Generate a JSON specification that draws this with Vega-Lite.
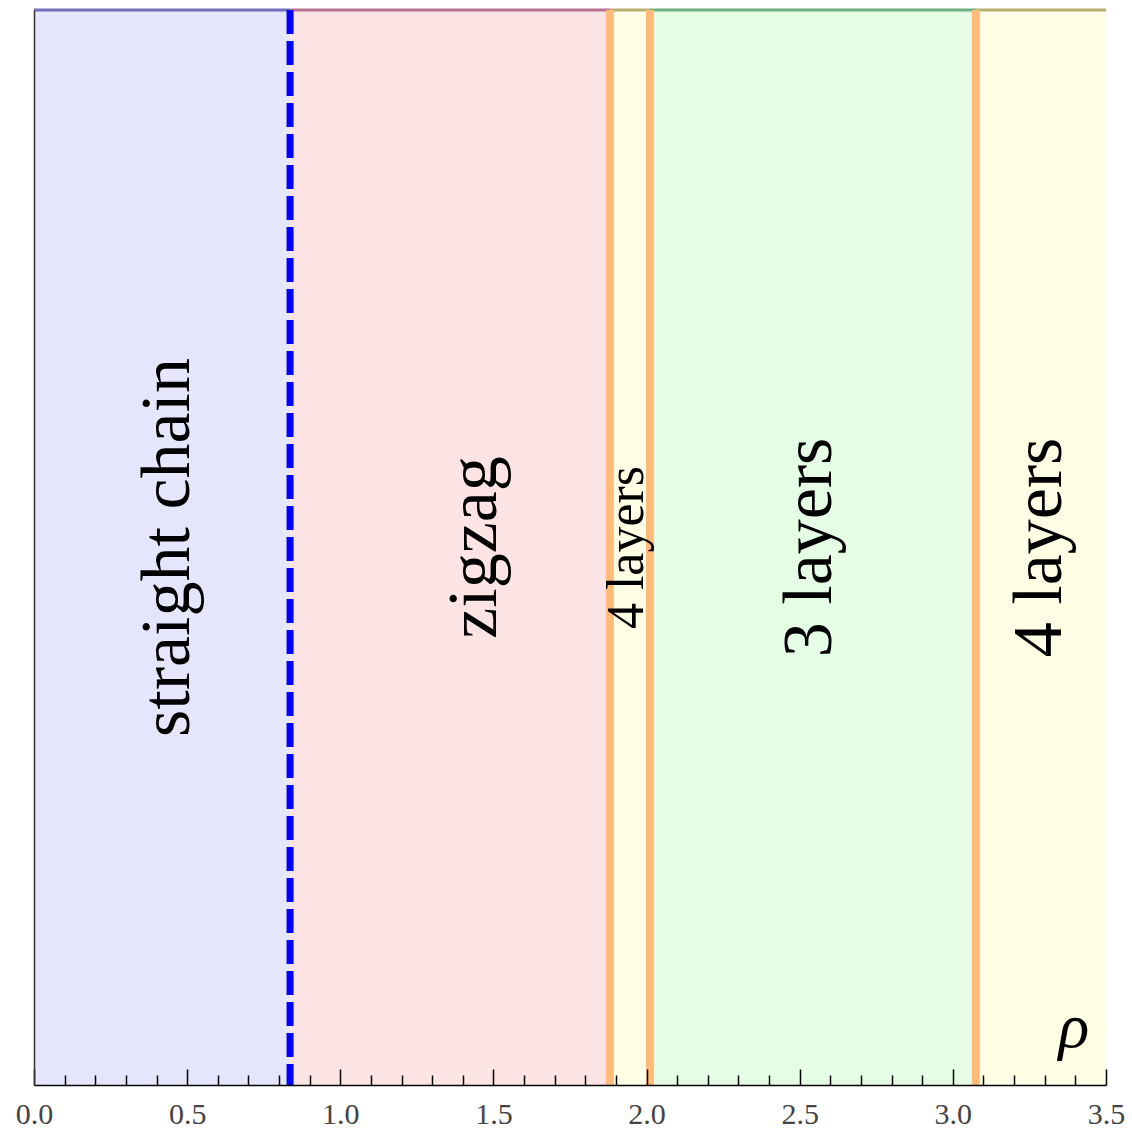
{
  "$schema": "https://vega.github.io/schema/vega-lite/v6.json",
  "width": 1072,
  "height": 1075,
  "autosize": {"type": "none"},
  "padding": {"left": 34, "top": 10, "right": 26, "bottom": 49},
  "background": "white",
  "config": {"view": {"stroke": null}},
  "resolve": {"axis": {"x": "independent", "y": "independent"}},
  "datasets": {
    "regions": [
      {"x0": 0, "x1": 0.836, "region": "straight chain"},
      {"x0": 0.836, "x1": 1.88, "region": "zigzag"},
      {"x0": 1.88, "x1": 2.011, "region": "4 layers a"},
      {"x0": 2.011, "x1": 3.075, "region": "3 layers"},
      {"x0": 3.075, "x1": 3.5, "region": "4 layers b"}
    ]
  },
  "layer": [
    {
      "data": {"name": "regions"},
      "mark": {"type": "rect"},
      "encoding": {
        "x": {"field": "x0", "type": "quantitative", "scale": {"domain": [0, 3.5], "nice": false, "zero": false},
          "axis": {"orient": "bottom", "zindex": 1,
            "values": [0, 0.5, 1, 1.5, 2, 2.5, 3, 3.5], "format": ".1f",
            "title": null, "grid": false,
            "domainColor": "black", "domainWidth": 1.5, "tickColor": "black", "tickWidth": 1.5, "tickSize": -16,
            "labelFont": "Liberation Serif", "labelFontSize": 30, "labelColor": "#444444", "labelPadding": 30, "labelFlush": false, "labelOverlap": false}},
        "x2": {"field": "x1"},
        "y": {"datum": 0, "type": "quantitative", "scale": {"domain": [0, 1], "nice": false},
          "axis": {"orient": "left", "zindex": 1, "title": null, "labels": false, "ticks": false, "grid": false, "domainColor": "#333333", "domainWidth": 1.5}},
        "y2": {"datum": 1},
        "color": {"field": "region", "type": "nominal", "legend": null,
          "scale": {"domain": ["straight chain", "zigzag", "4 layers a", "3 layers", "4 layers b"],
            "range": ["#E5E5FC", "#FDE4E4", "#FFFFE5", "#E5FDE5", "#FFFFE5"]}}
      }
    },
    {
      "data": {"name": "regions"},
      "mark": {"type": "rule", "strokeWidth": 3, "opacity": 1},
      "encoding": {
        "x": {"field": "x0", "type": "quantitative", "axis": null},
        "x2": {"field": "x1"},
        "y": {"datum": 1, "type": "quantitative", "axis": null},
        "stroke": {"field": "region", "type": "nominal", "legend": null,
          "scale": {"domain": ["straight chain", "zigzag", "4 layers a", "3 layers", "4 layers b"],
            "range": ["#7070B8", "#B87090", "#B8B070", "#70B080", "#B8B070"]}}
      }
    },
    {
      "data": {"values": [{"v": 0.1}, {"v": 0.2}, {"v": 0.3}, {"v": 0.4}]},
      "mark": {"type": "point", "opacity": 0},
      "encoding": {
        "x": {"field": "v", "type": "quantitative",
          "axis": {"orient": "bottom", "zindex": 1,
            "values": [0.1,0.2,0.3,0.4,0.6,0.7,0.8,0.9,1.1,1.2,1.3,1.4,1.6,1.7,1.8,1.9,2.1,2.2,2.3,2.4,2.6,2.7,2.8,2.9,3.1,3.2,3.3,3.4],
            "labels": false, "domain": false, "title": null, "grid": false, "tickColor": "black", "tickWidth": 1.5, "tickSize": -10}},
        "y": {"datum": 0.5, "type": "quantitative", "axis": null}
      }
    },
    {
      "data": {"values": [{"x": 1.88}, {"x": 2.011}, {"x": 3.075}]},
      "mark": {"type": "rule", "color": "#FFBB77", "strokeWidth": 8},
      "encoding": {"x": {"field": "x", "type": "quantitative", "axis": null}}
    },
    {
      "data": {"values": [{"x": 0.836}]},
      "mark": {"type": "rule", "color": "#0000FF", "strokeWidth": 7, "strokeDash": [24, 7]},
      "encoding": {"x": {"field": "x", "type": "quantitative", "axis": null}}
    },
    {
      "data": {"values": [
        {"x": 0.437, "y": 0.5, "label": "straight chain", "size": 70},
        {"x": 1.44, "y": 0.5, "label": "zigzag", "size": 70},
        {"x": 1.936, "y": 0.5, "label": "4 layers", "size": 52},
        {"x": 2.533, "y": 0.5, "label": "3 layers", "size": 70},
        {"x": 3.284, "y": 0.5, "label": "4 layers", "size": 70}
      ]},
      "mark": {"type": "text", "angle": 270, "font": "Liberation Serif", "baseline": "middle", "align": "center", "color": "black"},
      "encoding": {
        "x": {"field": "x", "type": "quantitative", "axis": null},
        "y": {"field": "y", "type": "quantitative", "axis": null},
        "text": {"field": "label"},
        "size": {"field": "size", "type": "quantitative", "scale": null, "legend": null}
      }
    },
    {
      "data": {"values": [{"x": 3.395, "y": 0.053, "label": "ρ"}]},
      "mark": {"type": "text", "font": "Liberation Serif", "fontStyle": "italic", "fontSize": 64, "baseline": "middle", "align": "center", "color": "black"},
      "encoding": {
        "x": {"field": "x", "type": "quantitative", "axis": null},
        "y": {"field": "y", "type": "quantitative", "axis": null},
        "text": {"field": "label"}
      }
    }
  ]
}
